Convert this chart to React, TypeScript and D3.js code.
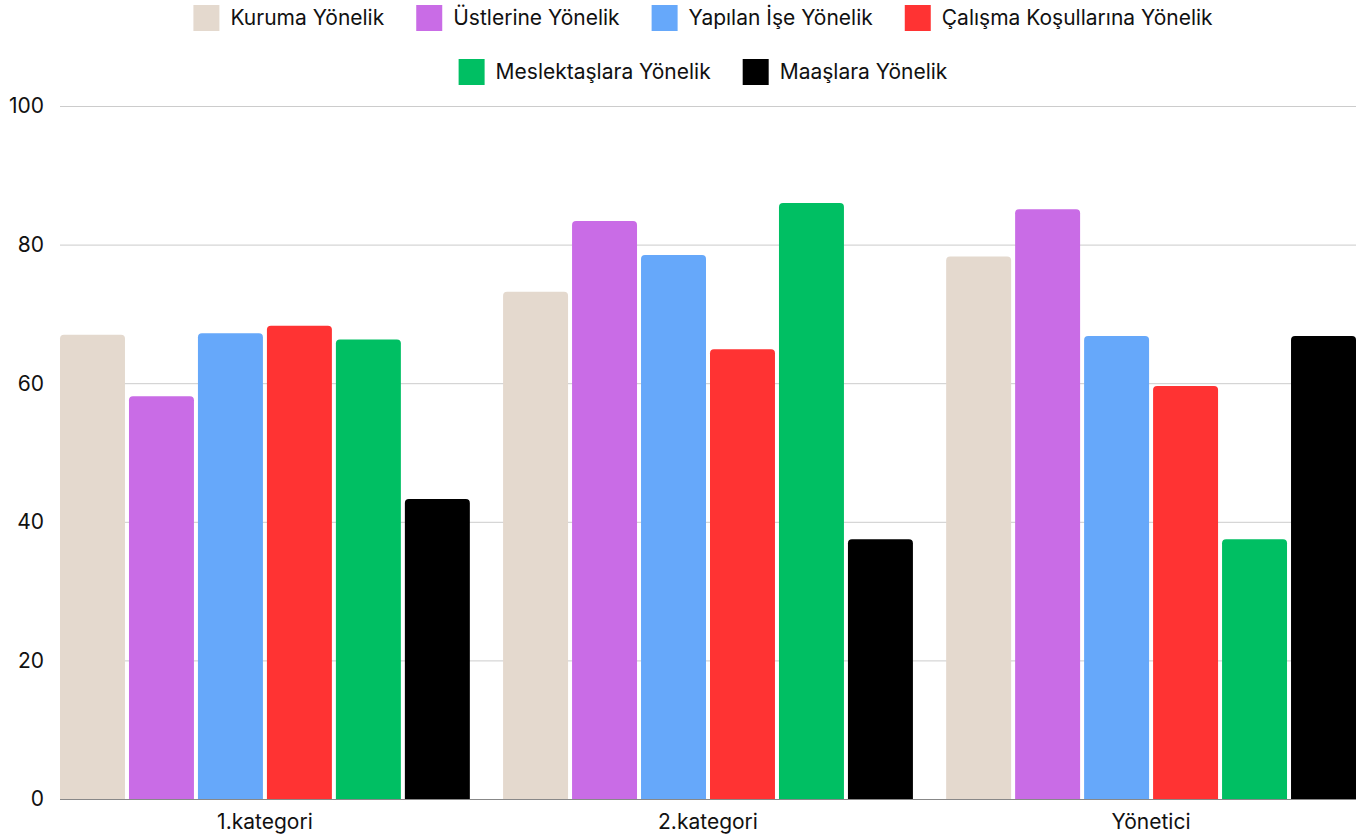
import React, { useRef, useEffect } from 'react'
import * as d3 from 'd3'

const categories = ['1.kategori', '2.kategori', 'Yönetici']
const seriesNames = [
  'Kuruma Yönelik',
  'Üstlerine Yönelik',
  'Yapılan İşe Yönelik',
  'Çalışma Koşullarına Yönelik',
  'Meslektaşlara Yönelik',
  'Maaşlara Yönelik',
]
const seriesColors = ['#e4d9ce', '#c96ce6', '#66a8fa', '#ff3333', '#00bf63', '#000000']

const kurumaValues = [67.0, 73.2, 78.3]
const ustlerineValues = [58.1, 83.4, 85.1]
const yapilanValues = [67.2, 78.5, 66.8]
const calismaValues = [68.3, 64.9, 59.6]
const meslektasValues = [66.3, 86.0, 37.5]
const maasValues = [43.3, 37.5, 66.8]

const yTicks = [0, 20, 40, 60, 80, 100]
const legendRows = [[0, 1, 2, 3], [4, 5]]

const W = 1361
const H = 836
const FONT = 'Inter, "Noto Sans", sans-serif'
const FS = 21

function topRounded(x: number, y: number, w: number, h: number, r: number) {
  const rr = Math.min(r, h, w / 2)
  return `M${x},${y + h}V${y + rr}Q${x},${y} ${x + rr},${y}H${x + w - rr}Q${x + w},${y} ${x + w},${y + rr}V${y + h}Z`
}

export default function App() {
  const svgRef = useRef<SVGSVGElement>(null)

  useEffect(() => {
    const svg = d3.select(svgRef.current)
    svg.selectAll('*').remove()

    const allSeries = [kurumaValues, ustlerineValues, yapilanValues, calismaValues, meslektasValues, maasValues]
    const margin = { left: 60, right: 5, top: 106, bottom: 37 }
    const plotW = W - margin.left - margin.right
    const plotH = H - margin.top - margin.bottom

    const x0 = d3.scaleBand().domain(categories).range([0, plotW]).paddingInner(0.075).paddingOuter(0)
    const x1 = d3.scaleBand<number>().domain(d3.range(seriesNames.length)).range([0, x0.bandwidth()]).paddingInner(0.058)
    const y = d3.scaleLinear().domain([0, 100]).range([plotH, 0])

    const g = svg.append('g').attr('transform', `translate(${margin.left},${margin.top})`)

    // grid
    g.selectAll('.grid')
      .data(yTicks.filter(t => t > 0))
      .join('line')
      .attr('x1', 0)
      .attr('x2', plotW)
      .attr('y1', d => y(d) + 0.5)
      .attr('y2', d => y(d) + 0.5)
      .attr('stroke', '#cccccc')
      .attr('stroke-width', 1)

    // y labels
    g.selectAll('.ylab')
      .data(yTicks)
      .join('text')
      .attr('x', -16)
      .attr('y', d => y(d))
      .attr('dy', '0.35em')
      .attr('text-anchor', 'end')
      .attr('font-family', FONT)
      .attr('font-size', FS)
      .attr('fill', '#111')
      .text(d => d)

    // bars
    const groups = g.selectAll('.grp')
      .data(categories)
      .join('g')
      .attr('transform', d => `translate(${x0(d)},0)`)

    groups.selectAll('path')
      .data((_, ci) => allSeries.map((s, si) => ({ si, v: s[ci] })))
      .join('path')
      .attr('d', d => topRounded(x1(d.si)!, y(d.v), x1.bandwidth(), plotH - y(d.v), 4))
      .attr('fill', d => seriesColors[d.si])

    // baseline
    g.append('line')
      .attr('x1', 0)
      .attr('x2', plotW)
      .attr('y1', plotH + 0.5)
      .attr('y2', plotH + 0.5)
      .attr('stroke', '#888888')
      .attr('stroke-width', 1)

    // category labels
    g.selectAll('.xlab')
      .data(categories)
      .join('text')
      .attr('x', d => x0(d)! + x0.bandwidth() / 2)
      .attr('y', plotH + 23)
      .attr('dy', '0.35em')
      .attr('text-anchor', 'middle')
      .attr('font-family', FONT)
      .attr('font-size', FS)
      .attr('fill', '#111')
      .text(d => d)

    // legend
    const centerX = 703
    const rowY = [18, 72]
    legendRows.forEach((row, ri) => {
      const lg = svg.append('g')
      const items = row.map(i => {
        const it = lg.append('g')
        it.append('rect').attr('width', 26).attr('height', 26).attr('y', -13).attr('fill', seriesColors[i])
        const t = it.append('text')
          .attr('x', 37)
          .attr('dy', '0.35em')
          .attr('font-family', FONT)
          .attr('font-size', FS)
          .attr('fill', '#111')
          .text(seriesNames[i])
        const tw = (t.node() as SVGTextElement).getComputedTextLength()
        return { it, w: 37 + tw }
      })
      const gap = 32
      const total = d3.sum(items, d => d.w) + gap * (items.length - 1)
      let cx = centerX - total / 2
      items.forEach(d => {
        d.it.attr('transform', `translate(${cx},${rowY[ri]})`)
        cx += d.w + gap
      })
    })
  }, [])

  return (
    <svg ref={svgRef} width={W} height={H} style={{ position: 'absolute', left: 0, top: 0, display: 'block' }} />
  )
}
